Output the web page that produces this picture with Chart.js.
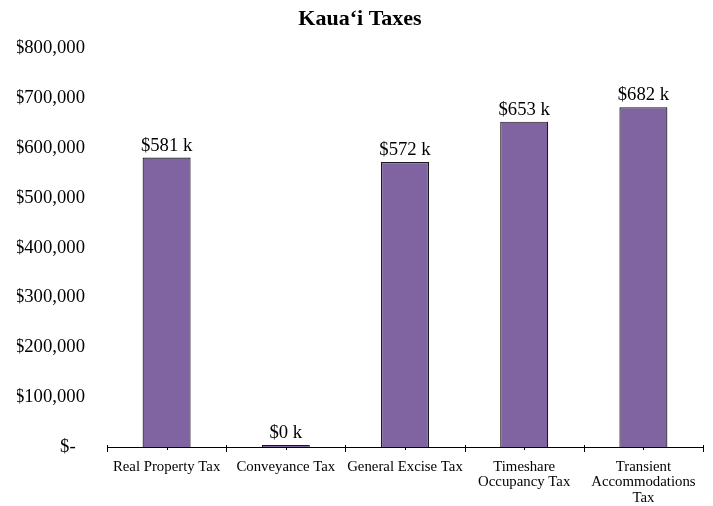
<!DOCTYPE html>
<html>
<head>
<meta charset="utf-8">
<script src="https://cdn.jsdelivr.net/npm/chart.js@4"></script>
<style>
  html, body { margin: 0; padding: 0; background: #fff; }
  #wrap { width: 713px; height: 506px; position: relative; }
</style>
</head>
<body>
<div id="wrap"><canvas id="taxChart"></canvas></div>
<script>
// chart data
const categories = [
    'Real Property Tax',
    'Conveyance Tax',
    'General Excise Tax',
    ['Timeshare', 'Occupancy Tax'],
    ['Transient', 'Accommodations', 'Tax']
];
const taxValues = [581000, 300, 572000, 653000, 682000];
const yTicks = [0, 100000, 200000, 300000, 400000, 500000, 600000, 700000, 800000];

const serif = '"Liberation Serif", "Times New Roman", serif';

// tick marks that cross the x axis, plus small ones under each category
const axisTicks = {
    id: 'axisTicks',
    afterDraw(chart) {
        const x = chart.scales.x;
        const y0 = x.top;
        const ctx = chart.ctx;
        ctx.save();
        ctx.strokeStyle = '#000';
        ctx.lineWidth = 1;
        ctx.beginPath();
        for (let i = 0; i <= categories.length; i++) {
            const px = Math.round(x.getPixelForValue(i - 0.5)) + 0.5;
            ctx.moveTo(px, y0 - 2);
            ctx.lineTo(px, y0 + 5);
        }
        for (let i = 0; i < categories.length; i++) {
            const px = Math.round(x.getPixelForValue(i)) + 0.5;
            ctx.moveTo(px, y0);
            ctx.lineTo(px, y0 + 3);
        }
        ctx.stroke();
        ctx.restore();
    }
};

// "$581 k" style labels above bars
const valueLabels = {
    id: 'valueLabels',
    afterDatasetsDraw(chart) {
        const ctx = chart.ctx;
        const meta = chart.getDatasetMeta(0);
        ctx.save();
        ctx.font = '18.7px ' + serif;
        ctx.fillStyle = '#000';
        ctx.textAlign = 'center';
        ctx.textBaseline = 'alphabetic';
        meta.data.forEach((bar, i) => {
            const txt = '$' + Math.round(taxValues[i] / 1000) + ' k';
            ctx.fillText(txt, bar.x, bar.y - 7);
        });
        ctx.restore();
    }
};

const ctx = document.getElementById('taxChart').getContext('2d');
new Chart(ctx, {
    type: 'bar',
    data: {
        labels: categories,
        datasets: [{
            data: taxValues,
            backgroundColor: '#8064A2',
            borderColor: '#1a1a1a',
            borderWidth: 1.2,
            borderSkipped: 'bottom',
            minBarLength: 2,
            barPercentage: 0.403,
            categoryPercentage: 1
        }]
    },
    options: {
        responsive: true,
        maintainAspectRatio: false,
        animation: false,
        layout: { padding: { left: 17, right: 10, top: 0, bottom: 0 } },
        plugins: {
            legend: { display: false },
            tooltip: { enabled: false },
            title: {
                display: true,
                text: 'Kaua\u2018i Taxes',
                color: '#000',
                font: { family: serif, size: 22, weight: 'bold' },
                padding: { top: 6, bottom: 16 }
            }
        },
        scales: {
            x: {
                grid: { display: false, drawTicks: false },
                border: { display: true, color: '#000', width: 1 },
                afterFit(scale) { scale.height = 59; },
                ticks: {
                    color: '#000',
                    padding: 12,
                    maxRotation: 0,
                    autoSkip: false,
                    font: { family: serif, size: 14.8, lineHeight: 1.05 }
                }
            },
            y: {
                min: 0,
                max: 800000,
                grid: { display: false, drawTicks: false },
                border: { display: false },
                afterFit(scale) { scale.width = 90; },
                afterBuildTicks(scale) {
                    scale.ticks = yTicks.map(v => ({ value: v }));
                },
                ticks: {
                    color: '#000',
                    padding: 22,
                    font: { family: serif, size: 18.7 },
                    callback: function(v) {
                        if (v === 0) return '$-  ';
                        return '$' + v.toLocaleString('en-US');
                    }
                }
            }
        }
    },
    plugins: [axisTicks, valueLabels]
});
</script>
</body>
</html>
